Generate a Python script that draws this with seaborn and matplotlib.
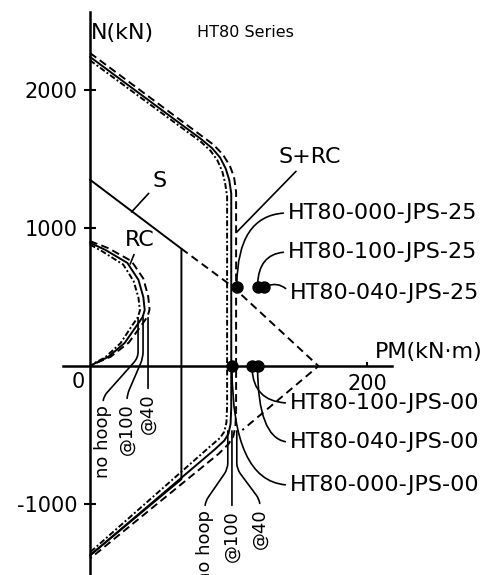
import matplotlib
matplotlib.use("Agg")
import numpy as np
import pandas as pd
import matplotlib.pyplot as plt
import seaborn as sns

# S+RC interaction curves: bending M (kN.m) vs axial N (kN)
src_nohoop_m = [0, 80, 87, 92, 95.5, 97.5, 99, 99, 98.5, 97, 94, 87, 0]
src_nohoop_n = [2215, 1625, 1560, 1490, 1410, 1330, 1230, -290, -410, -475, -520, -580, -1350]
src_100_m = [0, 80, 88, 94, 98, 100.5, 102, 102, 101.5, 100, 97, 90, 0]
src_100_n = [2240, 1646, 1580, 1510, 1430, 1350, 1250, -300, -420, -490, -540, -605, -1372]
src_40_m = [0, 80, 89, 96, 101, 104, 105.5, 105.5, 105, 103.5, 100, 93, 0]
src_40_n = [2268, 1672, 1605, 1532, 1450, 1370, 1260, -310, -435, -510, -565, -635, -1395]

# RC interaction curves
rc_nohoop_m = [0, 9, 24, 31.5, 35, 36, 34.5, 30.5, 22, 11, 3, 0]
rc_nohoop_n = [880, 830, 735, 615, 495, 402, 352, 295, 165, 63, 20, 0]
rc_100_m = [0, 11, 27, 35, 38.5, 39.5, 38, 34, 25, 13, 4, 0]
rc_100_n = [893, 842, 747, 624, 500, 406, 355, 297, 167, 65, 22, 0]
rc_40_m = [0, 13, 30, 38.5, 42, 43, 41.5, 37.5, 28, 15, 5, 0]
rc_40_n = [905, 855, 760, 634, 505, 410, 358, 300, 170, 68, 24, 0]

# steel only
s_m = [0, 66, 66, 0]
s_n = [1350, 850, -820, -1372]

# superposition (dashed)
sup_m = [66, 103, 165, 110]
sup_n = [850, 575, 0, -464]

# test results
pt_names = ["HT80-000-JPS-25", "HT80-100-JPS-25", "HT80-040-JPS-25",
            "HT80-000-JPS-00", "HT80-100-JPS-00", "HT80-040-JPS-00"]
pt_m = [106, 121, 126, 102.5, 117, 121]
pt_n = [573, 573, 573, 0, 0, 0]

variants = ["no hoop", "@100", "@40"]
y_ticks = [2000, 1000, -1000]
y_tick_labels = ["2000", "1000", "-1000"]
x_ticks = [200]
x_tick_labels = ["200"]


def curve_frame(parts):
    rows = []
    for name, ms, ns in parts:
        for m, n in zip(ms, ns):
            rows.append({"variant": name, "M": m, "N": n})
    return pd.DataFrame(rows)


src_df = curve_frame([("no hoop", src_nohoop_m, src_nohoop_n),
                      ("@100", src_100_m, src_100_n),
                      ("@40", src_40_m, src_40_n)])
rc_df = curve_frame([("no hoop", rc_nohoop_m, rc_nohoop_n),
                     ("@100", rc_100_m, rc_100_n),
                     ("@40", rc_40_m, rc_40_n)])

sns.set_theme(style="white")
plt.rcParams['font.family'] = ['DejaVu Sans']
plt.rcParams['text.color'] = 'black'
plt.rcParams['xtick.color'] = 'black'
plt.rcParams['ytick.color'] = 'black'

fig = plt.figure(figsize=(4.97, 5.75), dpi=100)
ax = fig.add_axes([0, 0, 1, 1])
ax.set_xlim(-65.0, 293.9)
ax.set_ylim(-1514, 2652)

line_dashes = {"no hoop": (3, 1.2, 1, 1.2), "@100": "", "@40": (4, 2.2)}
for df in (src_df, rc_df):
    sns.lineplot(data=df, x="M", y="N", style="variant", style_order=variants,
                 dashes=line_dashes, sort=False, estimator=None, color="black",
                 linewidth=1.4, legend=False, ax=ax)

sns.lineplot(x=s_m, y=s_n, sort=False, estimator=None, color="black",
             linewidth=1.4, ax=ax)
sns.lineplot(x=sup_m, y=sup_n, sort=False, estimator=None, color="black",
             linewidth=1.4, linestyle=(0, (4, 2.5)), ax=ax)
sns.scatterplot(x=pt_m, y=pt_n, color="black", s=80, linewidth=0,
                legend=False, ax=ax, zorder=6)

# axes through the origin
for side in ["top", "right"]:
    ax.spines[side].set_visible(False)
ax.spines['left'].set_position(('data', 0))
ax.spines['bottom'].set_position(('data', 0))
ax.spines['left'].set_bounds(-1514, 2565)
ax.spines['bottom'].set_bounds(-19.5, 218)
for side in ["left", "bottom"]:
    ax.spines[side].set_linewidth(1.8)
    ax.spines[side].set_color("black")

ax.set_yticks(y_ticks)
ax.set_yticklabels(y_tick_labels)
ax.set_xticks(x_ticks)
ax.set_xticklabels(x_tick_labels)
ax.tick_params(axis='y', direction='inout', length=8, width=1.5, colors='black',
               labelsize=15, pad=5, left=True)
ax.tick_params(axis='x', direction='in', length=3, width=1.5, colors='black',
               labelsize=15, pad=6, bottom=True)
ax.set_xlabel("")
ax.set_ylabel("")

fs = 16
ax.text(-8.7, -116, "0", fontsize=15, ha="center", va="center")
ax.text(0.5, 2413, "N(kN)", fontsize=fs, ha="left", va="center")
ax.text(77, 2413, "HT80 Series", fontsize=11.5, ha="left", va="center")
ax.text(206, 101, "PM(kN·m)", fontsize=fs, ha="left", va="center")

plain = dict(arrowstyle="-", color="black", lw=1.2, shrinkA=1, shrinkB=0)
ax.annotate("S", xy=(30, 1116), xytext=(50.5, 1340), fontsize=fs,
            ha="center", va="center", arrowprops=plain)
ax.annotate("RC", xy=(29, 739), xytext=(36, 913), fontsize=fs,
            ha="center", va="center", arrowprops=plain)
ax.annotate("S+RC", xy=(106, 971), xytext=(158.8, 1514), fontsize=fs,
            ha="center", va="center", arrowprops=plain)

# labels of test points
label_pos = {
    "HT80-000-JPS-25": (143, 1109, "angle3,angleA=0,angleB=90"),
    "HT80-100-JPS-25": (143, 826, "angle3,angleA=0,angleB=90"),
    "HT80-040-JPS-25": (144.4, 529, "arc3,rad=0.4"),
    "HT80-100-JPS-00": (144.4, -268, "angle3,angleA=0,angleB=90"),
    "HT80-040-JPS-00": (144.4, -551, "angle3,angleA=0,angleB=90"),
    "HT80-000-JPS-00": (144.4, -862, "angle3,angleA=0,angleB=90"),
}
for name, m, n in zip(pt_names, pt_m, pt_n):
    tx, ty, cs = label_pos[name]
    ax.annotate(name, xy=(m, n), xytext=(tx, ty), fontsize=fs,
                ha="left", va="center",
                arrowprops=dict(arrowstyle="-", color="black", lw=1.2,
                                shrinkA=1, shrinkB=2, relpos=(0, 0.5),
                                connectionstyle=cs))

# hoop spacing labels with leaders
rc_leads = [(34.7, 350), (38.3, 350), (41.9, 350)]
rc_text = [(9.4, -283), (26.7, -268), (41.9, -196)]
src_leads = [(99.5, -470), (102.5, -470), (106, -470)]
src_text = [(83, -1043), (102.5, -1043), (122.7, -1029)]
for leads, texts, armb in [(rc_leads, rc_text, 40), (src_leads, src_text, 38)]:
    for lab, xy, xt in zip(variants, leads, texts):
        ax.annotate(lab, xy=xy, xytext=xt, fontsize=13, rotation=90,
                    ha="center", va="top",
                    arrowprops=dict(arrowstyle="-", color="black", lw=1.2,
                                    shrinkA=1, shrinkB=0, relpos=(0.5, 1),
                                    connectionstyle=f"arc,angleA=90,angleB=-90,armA=8,armB={armb},rad=6"))

fig.savefig("out.png", dpi=100)
